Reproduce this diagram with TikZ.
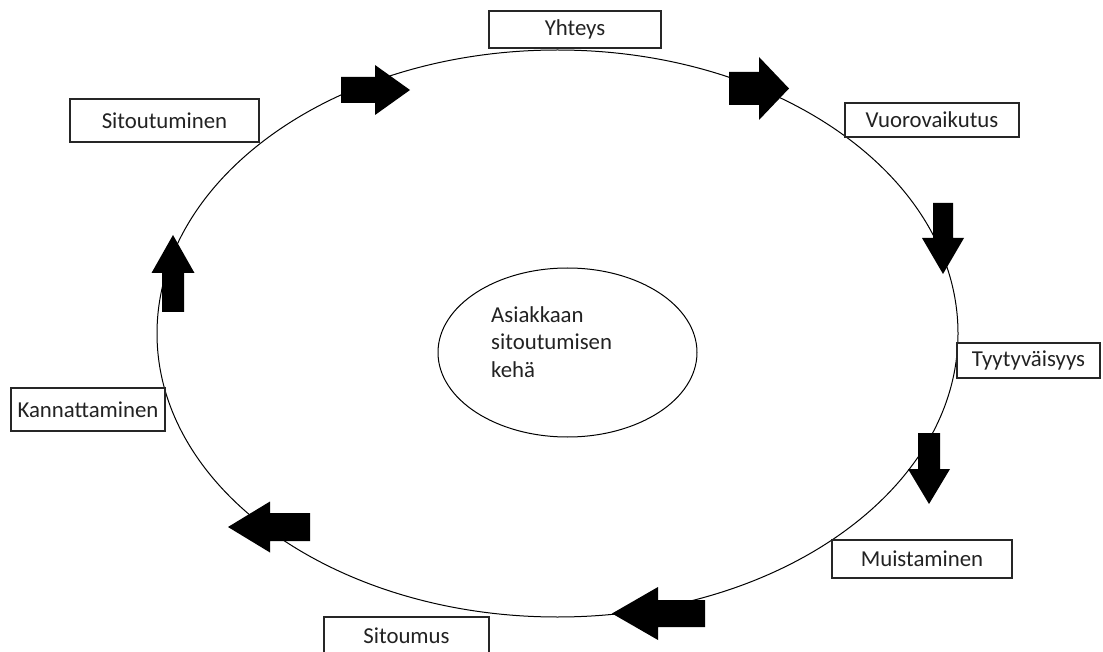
\documentclass[tikz,border=0pt]{standalone}
\usepackage{fontspec}
\setmainfont{Carlito}
\usetikzlibrary{shapes.geometric}
\definecolor{txt}{HTML}{222222}
\newcommand\blkarr[7]{\fill[black, shift={(#1,#2)}, rotate=#3] (0,-#6) -- ({#4-#5},-#6) -- ({#4-#5},-#7) -- (#4,0) -- ({#4-#5},#7) -- ({#4-#5},#6) -- (0,#6) -- cycle;}
\tikzset{
  lbl/.style={draw=black!85, line width=1.2pt, fill=white, rectangle, inner sep=0pt,
    text=txt, font=\fontsize{22.8pt}{27pt}\selectfont},
  ring/.style={draw=black, line width=1pt, ellipse, inner sep=0pt},
}
\begin{document}
\begin{tikzpicture}[x=1pt, y=-1pt]
\useasboundingbox[fill=white] (0,0) rectangle (1103,652);
% big cycle ellipse
\node[ring, minimum width=801pt, minimum height=567pt] (big) at (557.5,333.5) {};
% inner ellipse
\node[ring, minimum width=259pt, minimum height=169pt] (inner) at (567.5,352.5) {};
\node[anchor=north west, inner sep=0pt, align=left, text=txt,
  font=\fontsize{22.8pt}{27.5pt}\selectfont] (centre) at (491,306)
  {Asiakkaan\\sitoutumisen\\keh\"a};
% boxes
\node[lbl, minimum width=172pt, minimum height=37pt] (yhteys) at (575,29.5) {Yhteys};
\node[lbl, minimum width=174pt, minimum height=34pt] (vuoro) at (932,120) {Vuorovaikutus};
\node[lbl, minimum width=143pt, minimum height=35pt] (tyyty) at (1028.5,360.5) {Tyytyv\"aisyys};
\node[lbl, minimum width=180pt, minimum height=38pt] (muist) at (922,559) {Muistaminen};
\node[lbl, minimum width=165pt, minimum height=38pt, text depth=0pt] (sitoumus) at (406.5,636) {Sitoumus};
\node[lbl, minimum width=154pt, minimum height=43pt] (kannat) at (88,409.5) {Kannattaminen};
\node[lbl, minimum width=189pt, minimum height=43pt] (sitout) at (164.5,120.5) {Sitoutuminen};
% block arrows
\blkarr{341}{90}{0}{69}{35}{13}{25}
\blkarr{729}{88.5}{0}{60}{30}{16.5}{31.5}
\blkarr{943}{203}{-90}{71}{36}{10}{21}
\blkarr{929}{433}{-90}{71}{35}{11}{21}
\blkarr{705}{613.5}{180}{93}{46}{13.5}{26.5}
\blkarr{310}{527}{180}{82}{42}{14}{25.5}
\blkarr{173}{312}{90}{77}{38}{11}{21.5}
\end{tikzpicture}
\end{document}
